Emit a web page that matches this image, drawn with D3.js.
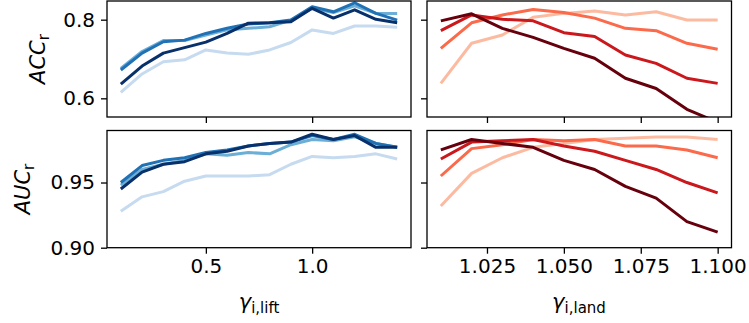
<!DOCTYPE html>
<html><head><meta charset="utf-8">
<script src="https://cdn.jsdelivr.net/npm/d3@7"></script>
<style>
body{margin:0;background:#fff;}
svg{display:block;font-family:"DejaVu Sans",sans-serif;}
.tick text{font-family:"DejaVu Sans",sans-serif;fill:#000;}
</style></head>
<body><svg id="c" width="749" height="323"></svg>
<script>
const gammaLift = [0.1,0.2,0.3,0.4,0.5,0.6,0.7,0.8,0.9,1.0,1.1,1.2,1.3,1.4];
const gammaLand = [1.01,1.02,1.03,1.04,1.05,1.06,1.07,1.08,1.09,1.10];

const accLift1 = [0.615,0.662,0.693,0.698,0.723,0.715,0.712,0.723,0.742,0.774,0.765,0.784,0.784,0.781];
const accLift2 = [0.676,0.719,0.747,0.747,0.761,0.774,0.778,0.782,0.799,0.829,0.818,0.835,0.816,0.816];
const accLift3 = [0.672,0.715,0.744,0.748,0.765,0.778,0.789,0.792,0.799,0.833,0.820,0.843,0.816,0.799];
const accLift4 = [0.636,0.682,0.715,0.729,0.743,0.765,0.791,0.792,0.795,0.829,0.804,0.825,0.801,0.792];

const aucLift1 = [0.928,0.939,0.943,0.951,0.955,0.955,0.955,0.956,0.964,0.970,0.969,0.970,0.972,0.968];
const aucLift2 = [0.948,0.960,0.964,0.967,0.972,0.971,0.973,0.972,0.979,0.983,0.982,0.985,0.980,0.977];
const aucLift3 = [0.950,0.963,0.967,0.969,0.973,0.975,0.978,0.980,0.981,0.986,0.983,0.987,0.980,0.977];
const aucLift4 = [0.945,0.958,0.964,0.966,0.972,0.974,0.978,0.980,0.981,0.987,0.983,0.986,0.977,0.977];

const accLand1 = [0.638,0.740,0.761,0.806,0.816,0.822,0.812,0.820,0.799,0.799];
const accLand2 = [0.727,0.792,0.812,0.826,0.818,0.804,0.778,0.772,0.740,0.725];
const accLand3 = [0.772,0.812,0.801,0.797,0.767,0.757,0.710,0.689,0.651,0.638];
const accLand4 = [0.797,0.815,0.778,0.755,0.727,0.702,0.651,0.625,0.572,0.539];

const aucLand1 = [0.932,0.957,0.969,0.977,0.980,0.983,0.984,0.985,0.985,0.983];
const aucLand2 = [0.955,0.976,0.979,0.983,0.982,0.983,0.978,0.978,0.975,0.969];
const aucLand3 = [0.968,0.981,0.982,0.983,0.978,0.974,0.967,0.960,0.950,0.942];
const aucLand4 = [0.975,0.983,0.980,0.977,0.967,0.960,0.947,0.938,0.920,0.912];

const blues = ["#c6dbef","#6baed6","#2171b5","#08306b"];
const reds  = ["#fcbba1","#fb6a4a","#cb181d","#67000d"];

const liftTicks = [0.5,1.0], liftTickLabels = ["0.5","1.0"];
const landTicks = [1.025,1.05,1.075,1.1], landTickLabels = ["1.025","1.050","1.075","1.100"];
const accTicks = [0.6,0.8], accTickLabels = ["0.6","0.8"];
const aucTicks = [0.90,0.95], aucTickLabels = ["0.90","0.95"];

const svg = d3.select("#c");
const FS = 20;

const colL = [107,411], colR = [427,731.5];
const rowT = [117,1], rowB = [247.7,130.5];

const xLift = d3.scaleLinear().domain([0.035,1.465]).range(colL);
const xLand = d3.scaleLinear().domain([1.0055,1.1045]).range(colR);
const yAcc = d3.scaleLinear().domain([0.5525,0.8475]).range(rowT);
const yAuc = d3.scaleLinear().domain([0.90,0.9899]).range(rowB);

const panels = [
  {x:xLift, y:yAcc, xs:gammaLift, series:[accLift1,accLift2,accLift3,accLift4], colors:blues, xt:liftTicks, xl:null, yt:accTicks, yl:accTickLabels},
  {x:xLand, y:yAcc, xs:gammaLand, series:[accLand1,accLand2,accLand3,accLand4], colors:reds, xt:landTicks, xl:null, yt:accTicks, yl:null},
  {x:xLift, y:yAuc, xs:gammaLift, series:[aucLift1,aucLift2,aucLift3,aucLift4], colors:blues, xt:liftTicks, xl:liftTickLabels, yt:aucTicks, yl:aucTickLabels},
  {x:xLand, y:yAuc, xs:gammaLand, series:[aucLand1,aucLand2,aucLand3,aucLand4], colors:reds, xt:landTicks, xl:landTickLabels, yt:aucTicks, yl:null},
];

panels.forEach((p,i)=>{
  const [x0,x1] = p.x.range(), [y1,y0] = p.y.range();
  const cid = "clip"+i;
  svg.append("clipPath").attr("id",cid).append("rect")
    .attr("x",x0).attr("y",y0).attr("width",x1-x0).attr("height",y1-y0);
  const g = svg.append("g").attr("clip-path",`url(#${cid})`);
  const line = d3.line().x((d,j)=>p.x(p.xs[j])).y(d=>p.y(d));
  p.series.forEach((s,k)=>{
    g.append("path").attr("d",line(s)).attr("fill","none")
      .attr("stroke",p.colors[k]).attr("stroke-width",3).attr("stroke-linejoin","round");
  });
  // axes
  const xa = d3.axisBottom(p.x).tickValues(p.xt).tickSizeOuter(0).tickSize(6).tickPadding(5)
    .tickFormat((d,j)=>p.xl ? p.xl[j] : "");
  const gx = svg.append("g").attr("transform",`translate(0,${y1})`).call(xa);
  const ya = d3.axisLeft(p.y).tickValues(p.yt).tickSizeOuter(0).tickSize(6).tickPadding(6)
    .tickFormat((d,j)=>p.yl ? p.yl[j] : "");
  const gy = svg.append("g").attr("transform",`translate(${x0},0)`).call(ya);
  [gx,gy].forEach(a=>{
    a.select(".domain").remove();
    a.selectAll(".tick line").attr("stroke","#000").attr("stroke-width",1.3);
    a.selectAll(".tick text").attr("font-size",FS);
  });
  svg.append("rect").attr("x",x0).attr("y",y0).attr("width",x1-x0).attr("height",y1-y0)
    .attr("fill","none").attr("stroke","#000").attr("stroke-width",1.3);
});

// y labels
function ylab(x,y,main){
  const t = svg.append("text").attr("transform",`translate(${x},${y}) rotate(-90)`)
    .attr("text-anchor","middle").attr("font-size",21);
  t.append("tspan").attr("font-style","italic").text(main);
  t.append("tspan").attr("font-size",15).attr("dy",4).text("r");
}
ylab(45,59,"ACC");
ylab(30,189,"AUC");

function xlab(x,y,sub){
  const t = svg.append("text").attr("x",x).attr("y",y).attr("text-anchor","middle").attr("font-size",21);
  t.append("tspan").attr("font-style","italic").text("γ");
  t.append("tspan").attr("font-size",15).attr("dy",4).text(sub);
}
xlab(259,309,"i,lift");
xlab(579,309,"i,land");
</script></body></html>
